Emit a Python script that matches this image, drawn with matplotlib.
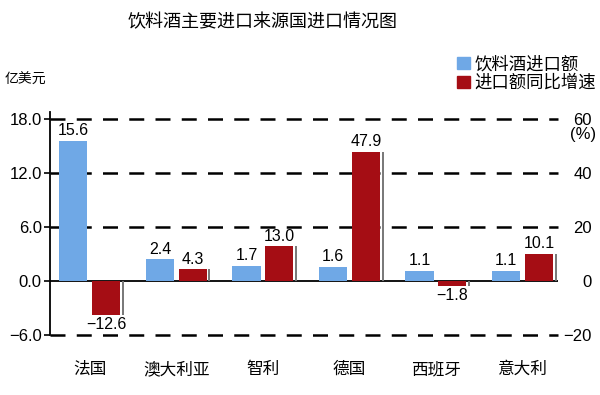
import numpy as np
import matplotlib.pyplot as plt
from matplotlib.patches import Patch

plt.rcParams['font.family'] = ['Liberation Sans', 'Noto Sans CJK SC', 'DejaVu Sans']
plt.rcParams['axes.unicode_minus'] = True

countries = ["法国", "澳大利亚", "智利", "德国", "西班牙", "意大利"]
import_value = [15.6, 2.4, 1.7, 1.6, 1.1, 1.1]      # 亿美元
yoy_growth = [-12.6, 4.3, 13.0, 47.9, -1.8, 10.1]   # %

blue = "#6fa8e6"
red = "#a50d14"

fig = plt.figure(figsize=(6, 3.95), dpi=100)
ax = fig.add_axes([50 / 600, 1 - 335 / 395, 508 / 600, 223 / 395])
ax2 = ax.twinx()

x = np.arange(len(countries))
w = 0.325
off = 0.19

# left axis: import value
ax.set_ylim(-6, 18.8)
ax.set_xlim(-0.46, 5.41)
for g in [18, 12, 6, -6]:
    ax.axhline(g, color="black", lw=1.8, dashes=(6, 4.5), zorder=0, clip_on=False)
ax.axhline(0, color="black", lw=1.3, zorder=0)
ax.bar(x - off, import_value, w, color=blue, zorder=2)
for xi, v in zip(x, import_value):
    ax.text(xi - off, v + 0.3, f"{v:.1f}", ha="center", va="bottom", fontsize=11.5)

ax.set_yticks([-6, 0, 6, 12, 18])
ax.set_yticklabels(["\u22126.0", "0.0", "6.0", "12.0", "18.0"], fontsize=12)
ax.set_xticks(x)
ax.set_xticklabels(countries, fontsize=12)
ax.tick_params(axis="x", length=0, pad=19)
ax.tick_params(axis="y", length=4, width=1.2, direction="out", pad=2)
for s in ["top", "right", "bottom"]:
    ax.spines[s].set_visible(False)
ax.spines["left"].set_linewidth(1.3)
ax.spines["left"].set_bounds(-6, 18.8)

# right axis: growth rate, zero aligned with left axis
ax2.set_ylim(-20, 18.8 * 60 / 18)
ax2.bar(x + off, yoy_growth, w, color=red, zorder=2)
ax2.vlines(x + off + w / 2 + 0.03, 0, yoy_growth, color="#777777", lw=1.4)
for xi, v in zip(x, yoy_growth):
    if v >= 0:
        ax2.text(xi + off, v + 0.9, f"{v:.1f}", ha="center", va="bottom", fontsize=11.5)
    else:
        ax2.text(xi + off, v - 0.9, f"{v:.1f}".replace("-", "\u2212"), ha="center",
                 va="top", fontsize=11.5)
ax2.set_yticks([-20, 0, 20, 40, 60])
ax2.set_yticklabels(["\u221220", "0", "20", "40", "60"], fontsize=12)
ax2.tick_params(axis="y", length=0, pad=24.5)
for lab in ax2.get_yticklabels():
    lab.set_horizontalalignment("right")
for s in ax2.spines.values():
    s.set_visible(False)
ax2.text(1.024, 0.897, "(%)", transform=ax2.transAxes, fontsize=12, ha="left", va="center")

fig.text(0.437, 0.944, "饮料酒主要进口来源国进口情况图", ha="center", va="center", fontsize=13)
fig.text(0.008, 0.797, "亿美元", ha="left", va="center", fontsize=10)

handles = [Patch(color=blue), Patch(color=red)]
fig.legend(handles, ["饮料酒进口额", "进口额同比增速"], loc="upper right",
           bbox_to_anchor=(1.02, 0.898), frameon=False, fontsize=12.5,
           handlelength=0.7, handleheight=0.7, handletextpad=0.3, labelspacing=0.1)

fig.savefig("out.png", dpi=100)
